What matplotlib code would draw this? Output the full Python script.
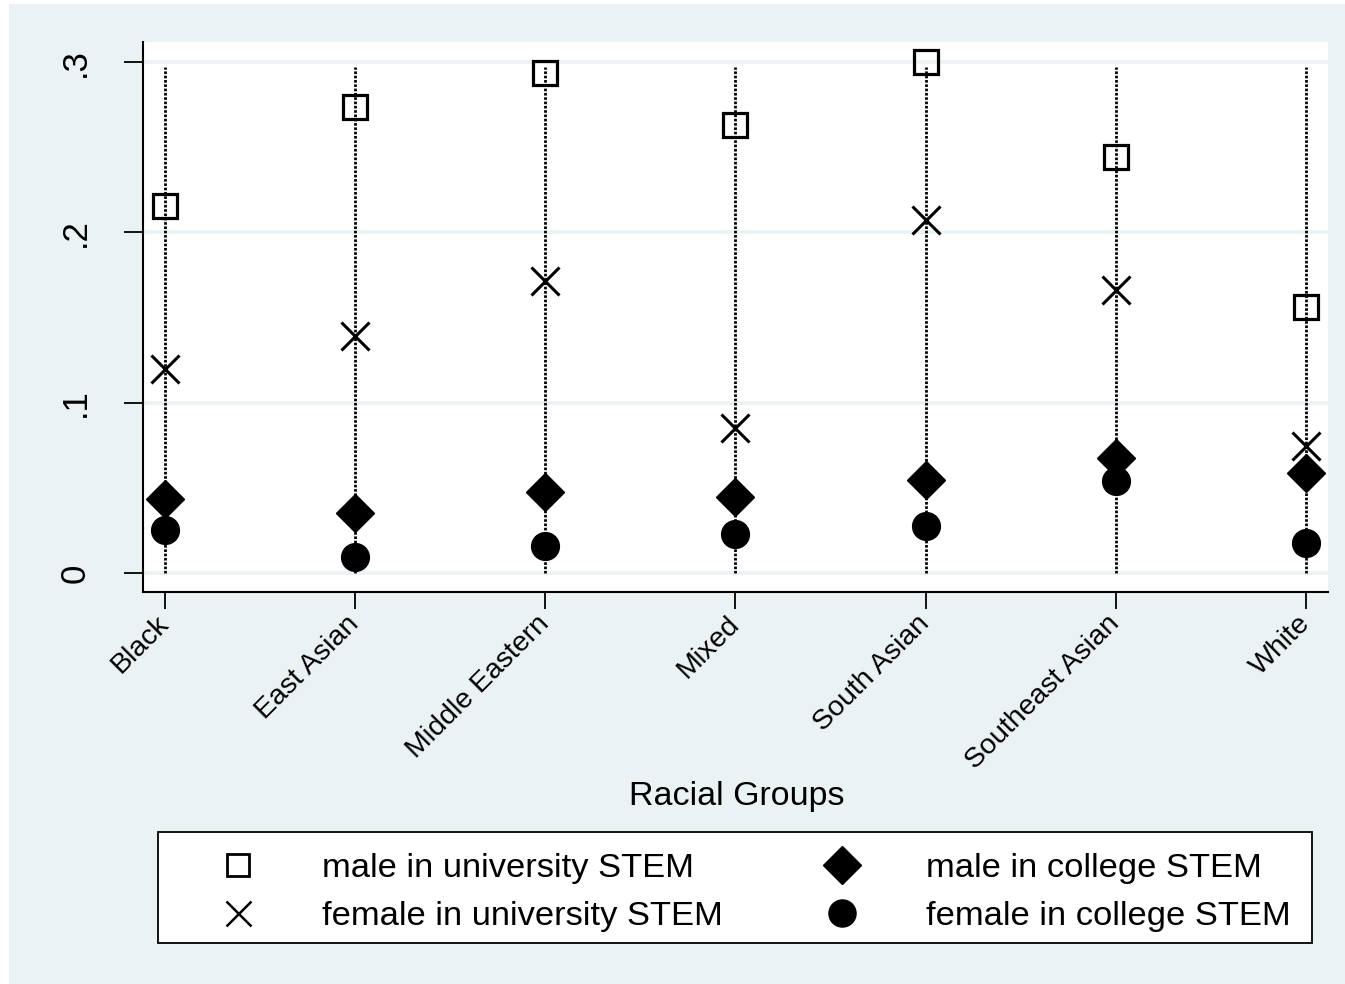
import matplotlib.pyplot as plt
from matplotlib.patches import Rectangle
from matplotlib.lines import Line2D

plt.rcParams['font.family'] = ['Liberation Sans', 'DejaVu Sans']

# share of students in STEM, by racial group
groups = ["Black", "East Asian", "Middle Eastern", "Mixed",
          "South Asian", "Southeast Asian", "White"]
male_univ = [0.2155, 0.2736, 0.2936, 0.2630, 0.3000, 0.2443, 0.1562]
female_univ = [0.1198, 0.1390, 0.1715, 0.0851, 0.2073, 0.1662, 0.0746]
male_college = [0.0435, 0.0352, 0.0476, 0.0446, 0.0546, 0.0675, 0.0587]
female_college = [0.0252, 0.0094, 0.0159, 0.0229, 0.0276, 0.0540, 0.0176]
yticks = [0, 0.1, 0.2, 0.3]
yticklabels = ["0", ".1", ".2", ".3"]
labels = ["male in university STEM", "female in university STEM",
          "male in college STEM", "female in college STEM"]

bg = "#EAF2F3"
W, H = 1345, 984


def fx(px):
    return px / W


def fy(py):
    return 1 - py / H


fig = plt.figure(figsize=(W / 100, H / 100), dpi=100, facecolor="white")
fig.patches.append(Rectangle((fx(9), 0), 1, fy(4), transform=fig.transFigure,
                             facecolor=bg, edgecolor="none", zorder=-10))

ax = fig.add_axes([fx(143), fy(592), fx(1328 - 143), (592 - 42) / H])
ax.set_facecolor("white")

x = list(range(len(groups)))

# dotted spikes at each group
ax.vlines(x, 0, 0.297, colors="black", linewidth=2.0,
          linestyles=[(0, (0.95, 0.6))], zorder=2)

for yv in yticks:
    ax.axhline(yv, color=bg, linewidth=2.6, zorder=1)

ax.plot(x, male_univ, linestyle="none", marker="s", markersize=17.5,
        markerfacecolor="none", markeredgecolor="black", markeredgewidth=2.3, zorder=4)
ax.plot(x, female_univ, linestyle="none", marker="x", markersize=20,
        color="black", markeredgewidth=2.2, zorder=4)
ax.plot(x, male_college, linestyle="none", marker="D", markersize=19,
        color="black", zorder=4)
ax.plot(x, female_college, linestyle="none", marker="o", markersize=20,
        color="black", zorder=4)

ax.set_xlim(-0.116, 6.116)
ax.set_ylim(-0.0112, 0.3118)

ax.set_yticks(yticks)
ax.set_yticklabels(yticklabels, rotation=90, va="center", fontsize=25)
ax.set_xticks(x)
ax.set_xticklabels(groups, rotation=45, ha="right", va="center",
                   rotation_mode="anchor", fontsize=20.5)
ax.tick_params(axis="y", length=14, width=1.3, pad=23)
ax.tick_params(axis="x", length=12, width=1.3, pad=8)

for side in ["top", "right"]:
    ax.spines[side].set_visible(False)
for side in ["left", "bottom"]:
    ax.spines[side].set_linewidth(1.5)

fig.text(fx(737), fy(797), "Racial Groups", ha="center", va="center", fontsize=24.5)

# legend box, two columns of marker + label
fig.patches.append(Rectangle((fx(158), fy(943)), fx(1312 - 158), (943 - 832) / H,
                             transform=fig.transFigure, facecolor="white",
                             edgecolor="black", linewidth=1.3, zorder=1))
legend_marks = [
    dict(marker="s", markersize=15.5, markerfacecolor="none",
         markeredgecolor="black", markeredgewidth=2.0),
    dict(marker="x", markersize=18, color="black", markeredgewidth=1.8),
    dict(marker="D", markersize=19, color="black"),
    dict(marker="o", markersize=19.5, color="black"),
]
mark_x = [238, 238, 842, 842]
text_x = [322, 322, 926, 926]
row_y = [865, 913, 865, 913]
for style, mx, tx, ry, lab in zip(legend_marks, mark_x, text_x, row_y, labels):
    fig.add_artist(Line2D([fx(mx)], [fy(ry)], linestyle="none",
                          transform=fig.transFigure, zorder=3, **style))
    fig.text(fx(tx), fy(ry + 3), lab, ha="left", va="center", fontsize=24.8, zorder=3)

fig.savefig("out.png", dpi=100, facecolor=fig.get_facecolor())
